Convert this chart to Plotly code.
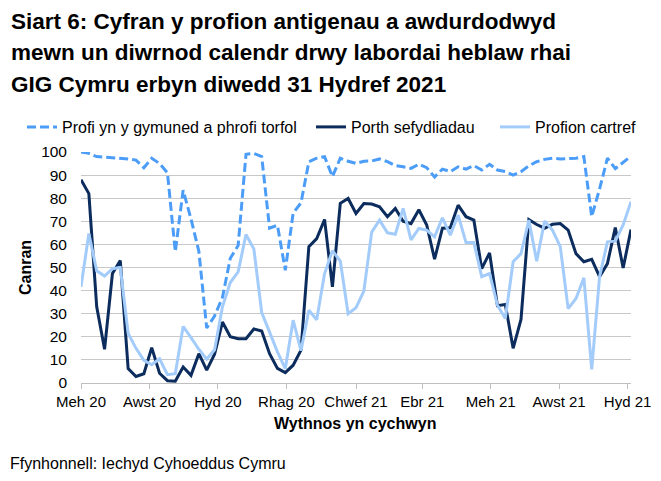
import pandas as pd
import plotly.graph_objects as go

# week commencing, weekly from 1 June 2020
weeks = pd.date_range("2020-06-01", periods=71, freq="7D")

# Profi yn y gymuned a phrofi torfol (%)
community = [100, 99.4, 98, 97.8, 97.5, 97.3, 97, 96.5, 93.2, 97.3,
             95, 91, 56.8, 83.5, 71, 57, 23.8, 29, 37, 54,
             59.5, 99, 99.4, 98, 67, 68.3, 48.8, 73.5, 78, 95.8,
             97.3, 98, 89.3, 97.3, 96, 95.1, 96, 96.1, 97, 95.8,
             94.1, 93.6, 92.9, 94.7, 93.2, 89.2, 92.6, 91.5, 93.6, 92.6,
             94.1, 92.2, 94.7, 92.2, 91.5, 90, 91.5, 94, 95.8, 96.8,
             97.3, 97, 97, 97.3, 98, 72, 84, 97.3, 92.8, 95.5,
             98.2]

# Porth sefydliadau (%)
institutions = [88, 82, 33, 14.6, 47.4, 53, 6.2, 2.8, 4, 15.3,
                4.2, 1, 0.8, 6.9, 3.3, 12.7, 5.6, 12.5, 26.4, 20,
                19.2, 19.2, 23.4, 22.5, 12.7, 6.3, 4.5, 7.7, 14.2, 59,
                62.5, 70.8, 41.6, 77.8, 79.9, 73.4, 77.7, 77.5, 76.3, 72,
                75.6, 70, 69, 75, 68.4, 53.6, 67, 67.2, 77, 72,
                70.5, 49.5, 56.3, 33.5, 34, 15, 27.5, 70.7, 68.6, 67,
                68.7, 69, 66.2, 56, 52.5, 53.5, 46, 51.7, 67.3, 49.8,
                66.4]

# Profion cartref (%)
home = [41.6, 64.7, 48.6, 46.3, 49.5, 50, 21.5, 15, 9.8, 7.9,
        10.5, 3.6, 4, 24.5, 19.6, 14.6, 10.3, 14.4, 33, 43.5,
        48.1, 64.3, 58, 30.5, 22, 13.5, 6.2, 27.2, 14, 31.5,
        27.4, 47.4, 57.3, 52.8, 30, 32.6, 39.8, 65.3, 70.5, 65,
        64.4, 75.6, 62, 66.9, 66.2, 63.3, 71.5, 64, 72.7, 60.8,
        60.8, 46, 47.4, 33.7, 27.9, 52.5, 56, 70.5, 52.7, 70.1,
        66.2, 59, 32.2, 36.6, 45.5, 5.9, 46, 61.1, 61.4, 68.4,
        78.5]

tick_dates = ["2020-06-01", "2020-08-01", "2020-10-01", "2020-12-01", "2021-02-01",
              "2021-04-01", "2021-06-01", "2021-08-01", "2021-10-01"]
tick_labels = ["Meh 20", "Awst 20", "Hyd 20", "Rhag 20", "Chwef 21",
               "Ebr 21", "Meh 21", "Awst 21", "Hyd 21"]

FONT = "Liberation Sans, Arial, sans-serif"
W, H = 653, 473   # page body adds an 8px margin

fig = go.Figure()
fig.add_trace(go.Scatter(x=weeks, y=community, mode="lines", name="Profi yn y gymuned a phrofi torfol",
                         line=dict(color="#4C9DF8", width=3, dash="9px,4px"), legend="legend"))
fig.add_trace(go.Scatter(x=weeks, y=institutions, mode="lines", name="Porth sefydliadau",
                         line=dict(color="#0B2C5C", width=3), legend="legend2"))
fig.add_trace(go.Scatter(x=weeks, y=home, mode="lines", name="Profion cartref",
                         line=dict(color="#A3CCFB", width=3), legend="legend3"))

leg = dict(orientation="h", xref="container", yref="container", y=1 - (127 - 8) / H, yanchor="middle",
           font=dict(family=FONT, size=16, color="black"), bgcolor="rgba(0,0,0,0)")

def px2paper_x(px):
    return (px - 81) / 550

def px2paper_y(py):
    return (383 - py) / 231

annotations = []
title_lines = ["Siart 6: Cyfran y profion antigenau a awdurdodwyd",
               "mewn un diwrnod calendr drwy labordai heblaw rhai",
               "GIG Cymru erbyn diwedd 31 Hydref 2021"]
for i, line in enumerate(title_lines):
    annotations.append(dict(text="<b>" + line + "</b>", xref="paper", yref="paper",
                            x=px2paper_x(9), y=px2paper_y(21 + 32 * i), xanchor="left", yanchor="middle",
                            showarrow=False, font=dict(family=FONT, size=22.5, color="black")))
annotations.append(dict(text="<b>Canran</b>", xref="paper", yref="paper", x=px2paper_x(25), y=px2paper_y(268),
                        xanchor="center", yanchor="middle", textangle=-90, showarrow=False,
                        font=dict(family=FONT, size=16, color="black")))
annotations.append(dict(text="<b>Wythnos yn cychwyn</b>", xref="paper", yref="paper", x=px2paper_x(355),
                        y=px2paper_y(423), xanchor="center", yanchor="middle", showarrow=False,
                        font=dict(family=FONT, size=16, color="black")))
annotations.append(dict(text="Ffynhonnell: Iechyd Cyhoeddus Cymru", xref="paper", yref="paper", x=px2paper_x(8),
                        y=px2paper_y(463), xanchor="left", yanchor="middle", showarrow=False,
                        font=dict(family=FONT, size=16, color="black")))

fig.update_layout(
    width=W, height=H,
    margin=dict(l=81 - 8, r=W - (631 - 8), t=152 - 8, b=H - (383 - 8), autoexpand=False),
    plot_bgcolor="white", paper_bgcolor="white",
    font=dict(family=FONT, size=15, color="black"),
    showlegend=True,
    legend=dict(leg, x=(22 - 8) / W),
    legend2=dict(leg, x=(311 - 8) / W),
    legend3=dict(leg, x=(495 - 8) / W),
    annotations=annotations,
    xaxis=dict(type="date", range=["2020-06-01", "2021-10-04"], tickvals=tick_dates, ticktext=tick_labels,
               showgrid=False, showline=True, linecolor="#BFBFBF", linewidth=1,
               ticks="outside", ticklen=5, tickcolor="#BFBFBF", tickfont=dict(size=15)),
    yaxis=dict(range=[0, 100], dtick=10, showgrid=True, gridcolor="#C8C8C8", gridwidth=1,
               zeroline=False, showline=False, ticks="", ticklabelstandoff=13, tickfont=dict(size=15.5)),
)

fig.write_html("out.html")
